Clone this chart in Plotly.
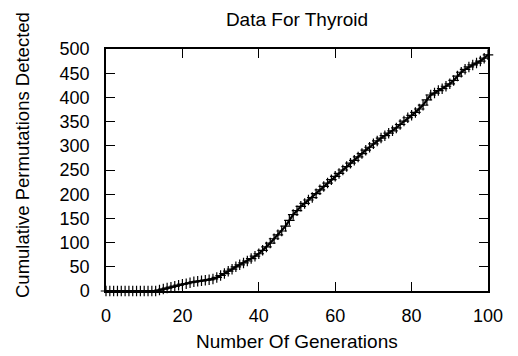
import plotly.graph_objects as go

# Cumulative permutations detected after each generation (Thyroid run)
generations = list(range(0, 101))
detected = [
    0, 0, 0, 0, 0, 0, 0, 0, 0, 0,
    0, 0, 0, 0, 2, 4, 6, 8, 10, 12,
    14, 15, 17, 19, 20, 21, 22, 23, 25, 28,
    32, 36, 41, 45, 50, 54, 58, 62, 67, 72,
    77, 84, 91, 99, 108, 116, 124, 134, 146, 158,
    166, 175, 181, 188, 193, 201, 209, 216, 223, 230,
    237, 243, 250, 257, 264, 270, 277, 284, 291, 297,
    304, 310, 316, 321, 326, 331, 337, 344, 351, 358,
    363, 369, 376, 384, 395, 405, 409, 414, 418, 423,
    428, 435, 444, 452, 458, 463, 467, 471, 475, 481,
    488,
]

x_ticks = [0, 20, 40, 60, 80, 100]
y_ticks = [0, 50, 100, 150, 200, 250, 300, 350, 400, 450, 500]

title_text = "Data For Thyroid"
x_label = "Number Of Generations"
y_label = "Cumulative Permutations Detected"

FONT = "Liberation Sans, Arial, Helvetica, sans-serif"

fig = go.Figure()
fig.add_trace(go.Scatter(
    x=generations,
    y=detected,
    mode="lines+markers",
    line=dict(color="black", width=2.2),
    marker=dict(symbol="cross-thin", size=7.5, color="black",
                line=dict(color="black", width=1.2)),
    cliponaxis=False,
    showlegend=False,
))

axis_common = dict(
    showline=True, linecolor="black", linewidth=1.5, mirror="ticks",
    ticks="inside", ticklen=9, tickwidth=1.3, tickcolor="black",
    showgrid=False, zeroline=False,
    tickfont=dict(family=FONT, size=18, color="black"),
)

fig.update_xaxes(range=[0, 100], tickvals=x_ticks, ticklabelstandoff=8, **axis_common)
fig.update_yaxes(range=[0, 500], tickvals=y_ticks, ticklabelstandoff=11, **axis_common)

fig.update_layout(
    width=518, height=356,
    margin=dict(l=106, r=30, t=49, b=65),
    paper_bgcolor="white", plot_bgcolor="white",
    font=dict(family=FONT, color="black"),
    title=dict(text=title_text, x=297 / 518, xanchor="center",
               y=1 - 19 / 356, yanchor="middle",
               font=dict(family=FONT, size=19, color="black")),
    annotations=[
        dict(text=x_label, xref="paper", yref="paper",
             x=0.5, y=(291 - 341) / 242, xanchor="center", yanchor="middle",
             showarrow=False, font=dict(family=FONT, size=19, color="black")),
        dict(text=y_label, xref="paper", yref="paper", textangle=-90,
             x=(22 - 106) / 382, y=(291 - 155) / 242,
             xanchor="center", yanchor="middle",
             showarrow=False, font=dict(family=FONT, size=18.5, color="black")),
    ],
)

fig.write_html("out.html")
